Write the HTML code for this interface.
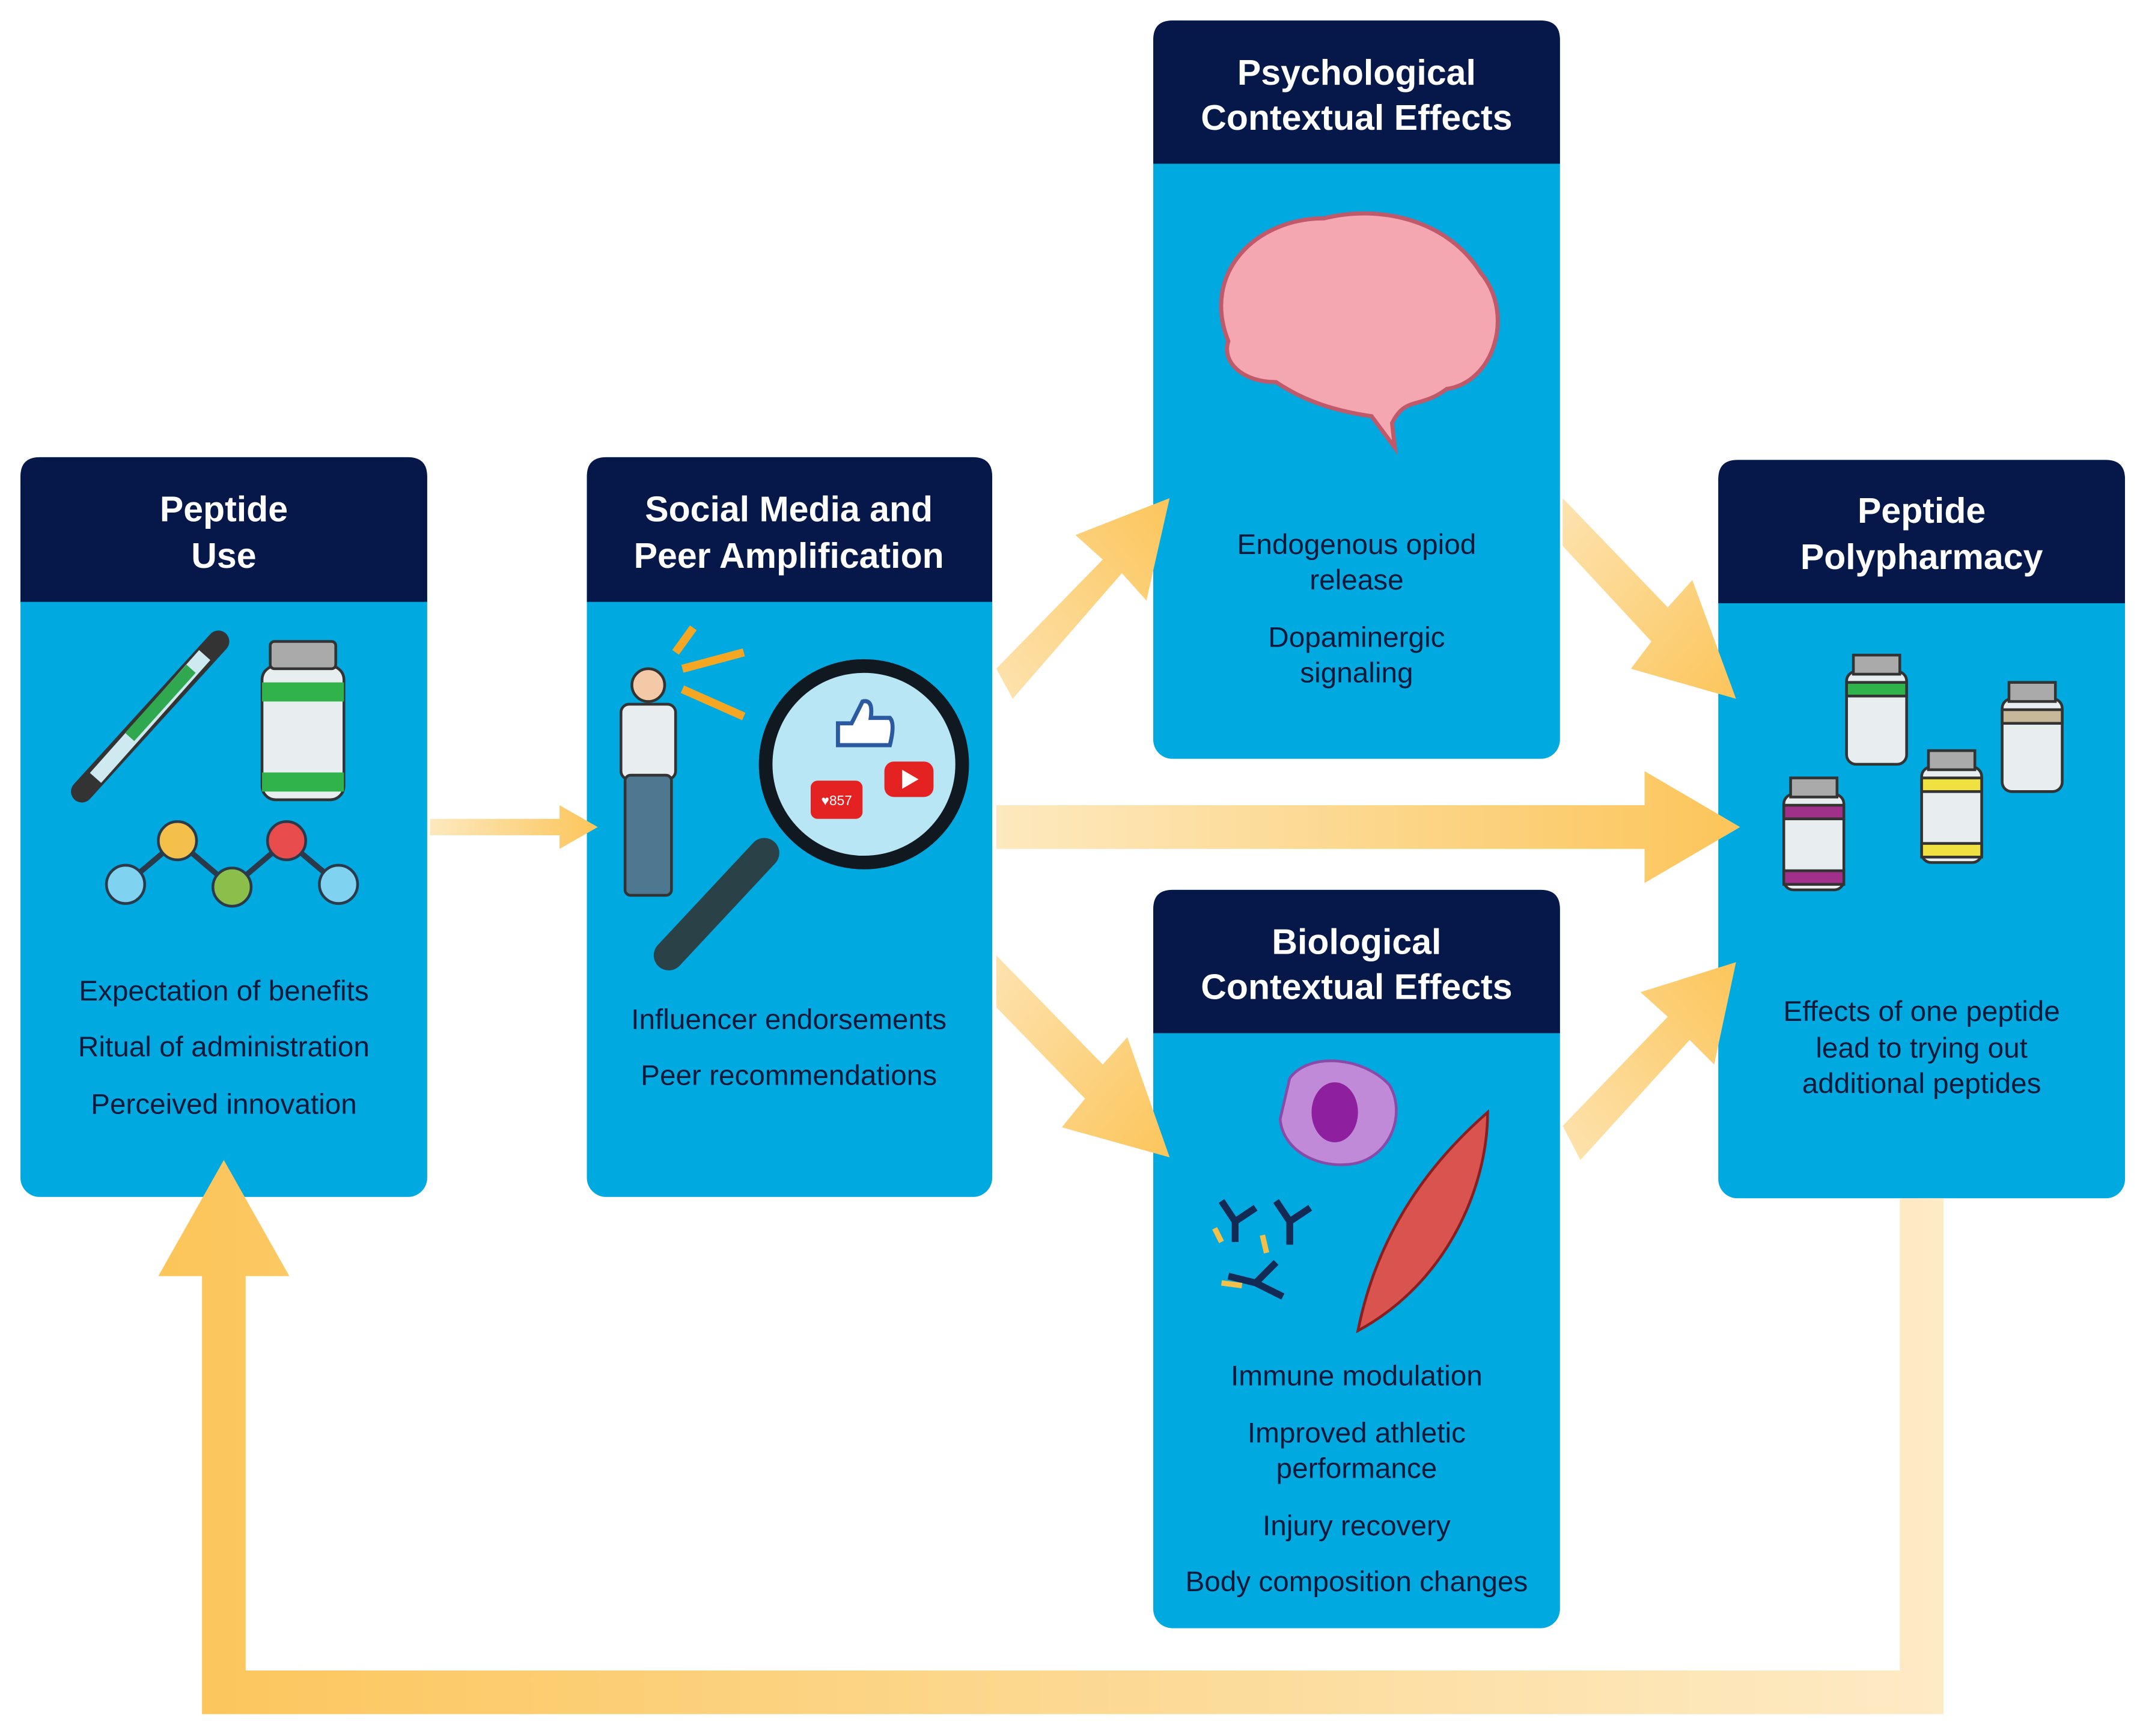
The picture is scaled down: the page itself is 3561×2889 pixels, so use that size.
<!DOCTYPE html>
<html><head><meta charset="utf-8">
<style>html,body{margin:0;padding:0;background:#fff}svg{display:block}
text{font-family:"Liberation Sans",sans-serif}</style></head>
<body>
<svg width="3561" height="2889" viewBox="0 0 1568 1272" preserveAspectRatio="none" xmlns="http://www.w3.org/2000/svg">
<defs>
<linearGradient id="gh" x1="0" x2="1" y1="0" y2="0"><stop offset="0" stop-color="#fde9bf"/><stop offset="1" stop-color="#fcc55a"/></linearGradient>
<linearGradient id="gd1" x1="0" y1="1" x2="1" y2="0"><stop offset="0" stop-color="#fde3b0"/><stop offset="1" stop-color="#fcc55a"/></linearGradient>
<linearGradient id="gd2" x1="0" y1="0" x2="1" y2="1"><stop offset="0" stop-color="#fde3b0"/><stop offset="1" stop-color="#fcc55a"/></linearGradient>
<linearGradient id="gl" x1="1" x2="0" y1="0" y2="0"><stop offset="0" stop-color="#fdebc6"/><stop offset="1" stop-color="#fcc55a"/></linearGradient>
</defs>

<!-- boxes -->
<g>
<rect x="15" y="335" width="298" height="542" rx="14" fill="#00a9e0"/>
<path d="M15,441 V349 Q15,335 29,335 H299 Q313,335 313,349 V441 Z" fill="#06174a"/>
<rect x="430" y="335" width="297" height="542" rx="14" fill="#00a9e0"/>
<path d="M430,441 V349 Q430,335 444,335 H713 Q727,335 727,349 V441 Z" fill="#06174a"/>
<rect x="845" y="15" width="298" height="541" rx="14" fill="#00a9e0"/>
<path d="M845,120 V29 Q845,15 859,15 H1129 Q1143,15 1143,29 V120 Z" fill="#06174a"/>
<rect x="845" y="652" width="298" height="541" rx="14" fill="#00a9e0"/>
<path d="M845,757 V666 Q845,652 859,652 H1129 Q1143,652 1143,666 V757 Z" fill="#06174a"/>
<rect x="1259" y="337" width="298" height="541" rx="14" fill="#00a9e0"/>
<path d="M1259,442 V351 Q1259,337 1273,337 H1543 Q1557,337 1557,351 V442 Z" fill="#06174a"/>
</g>

<!-- loop arrow -->
<path d="M1392,878 H1424 V1256 H148 V935 H116 L164,850 L212,935 H180 V1224 H1392 Z" fill="url(#gl)"/>
<!-- small arrow -->
<path d="M315,600 H410 V590 L438,606 L410,622 V612 H315 Z" fill="url(#gh)"/>
<!-- horizontal big -->
<path d="M730,590 H1205 V565 L1275,606 L1205,647 V622 H730 Z" fill="url(#gh)"/>
<!-- diagonals -->
<path d="M730,490 L808,410 L788,392 L857,365 L840,440 L822,420 L742,512 Z" fill="url(#gd1)"/>
<path d="M1145,365 L1222,445 L1240,425 L1272,512 L1195,490 L1210,470 L1145,400 Z" fill="url(#gd2)"/>
<path d="M730,700 L808,780 L826,760 L857,848 L778,826 L795,805 L730,738 Z" fill="url(#gd2)"/>
<path d="M1145,825 L1222,745 L1202,727 L1272,705 L1256,780 L1238,762 L1158,850 Z" fill="url(#gd1)"/>

<g fill="#fff" font-weight="bold" font-size="26" text-anchor="middle">
<text x="164" y="382">Peptide</text><text x="164" y="416">Use</text>
<text x="578" y="382">Social Media and</text><text x="578" y="416">Peer Amplification</text>
<text x="994" y="62">Psychological</text><text x="994" y="95">Contextual Effects</text>
<text x="994" y="699">Biological</text><text x="994" y="732">Contextual Effects</text>
<text x="1408" y="383">Peptide</text><text x="1408" y="417">Polypharmacy</text>
</g>
<g fill="#0b1a3a" font-size="21" text-anchor="middle">
<text x="164" y="733">Expectation of benefits</text>
<text x="164" y="774">Ritual of administration</text>
<text x="164" y="816">Perceived innovation</text>
<text x="578" y="754">Influencer endorsements</text>
<text x="578" y="795">Peer recommendations</text>
<text x="994" y="406">Endogenous opiod</text><text x="994" y="432">release</text>
<text x="994" y="474">Dopaminergic</text><text x="994" y="500">signaling</text>
<text x="994" y="1015">Immune modulation</text>
<text x="994" y="1057">Improved athletic</text><text x="994" y="1083">performance</text>
<text x="994" y="1125">Injury recovery</text>
<text x="994" y="1166">Body composition changes</text>
<text x="1408" y="748">Effects of one peptide</text>
<text x="1408" y="775">lead to trying out</text>
<text x="1408" y="801">additional peptides</text>
</g>

<!-- Peptide use icons -->
<g>
<path d="M60,580 L160,470" stroke="#333" stroke-width="16" stroke-linecap="round"/>
<path d="M70,570 L150,480" stroke="#cfe9f0" stroke-width="11"/>
<path d="M95,540 L140,490" stroke="#2fa84f" stroke-width="9"/>
<rect x="192" y="488" width="60" height="98" rx="10" fill="#e8eef0" stroke="#333" stroke-width="2"/>
<rect x="198" y="470" width="48" height="20" rx="3" fill="#aaa" stroke="#333" stroke-width="2"/>
<rect x="192" y="500" width="60" height="14" fill="#2fb34a"/><rect x="192" y="566" width="60" height="14" fill="#2fb34a"/>
<path d="M92,648 L130,616 L170,650 L210,616 L248,648" stroke="#2b3a4a" stroke-width="4" fill="none"/>
<circle cx="92" cy="648" r="14" fill="#7fd3f0" stroke="#2b3a4a" stroke-width="2"/>
<circle cx="130" cy="616" r="14" fill="#f5c04a" stroke="#2b3a4a" stroke-width="2"/>
<circle cx="170" cy="650" r="14" fill="#8cbf4a" stroke="#2b3a4a" stroke-width="2"/>
<circle cx="210" cy="616" r="14" fill="#e84c4c" stroke="#2b3a4a" stroke-width="2"/>
<circle cx="248" cy="648" r="14" fill="#7fd3f0" stroke="#2b3a4a" stroke-width="2"/>
</g>
<!-- social icons -->
<g>
<circle cx="475" cy="502" r="12" fill="#f4c9a8" stroke="#333" stroke-width="2"/>
<rect x="455" y="516" width="40" height="55" rx="6" fill="#e8eef0" stroke="#333" stroke-width="2"/>
<rect x="458" y="568" width="34" height="88" rx="4" fill="#4d7890" stroke="#333" stroke-width="2"/>
<path d="M495,478 L508,460 M500,490 L545,478 M500,505 L545,525" stroke="#f5a623" stroke-width="6"/>
<path d="M490,700 L560,625" stroke="#2b4148" stroke-width="22" stroke-linecap="round"/>
<circle cx="633" cy="560" r="72" fill="#b8e6f5" stroke="#101820" stroke-width="10"/>
<path d="M614,530 H624 L632,514 Q640,512 638,526 H652 Q656,530 652,546 H614 Z" fill="#fff" stroke="#2c5aa0" stroke-width="3"/>
<rect x="648" y="558" width="36" height="26" rx="7" fill="#e52222"/><path d="M661,564 L673,571 L661,578 Z" fill="#fff"/>
<rect x="594" y="572" width="38" height="28" rx="5" fill="#e52222"/>
<text x="613" y="590" font-size="10" fill="#fff" text-anchor="middle">♥857</text>
</g>
<!-- brain -->
<path d="M900,250 C880,200 920,160 970,160 C1010,150 1060,160 1085,200 C1110,230 1095,280 1060,285 C1040,300 1030,290 1020,310 L1022,328 L1005,305 C970,300 950,290 935,280 C910,280 895,265 900,250 Z" fill="#f4a7b0" stroke="#c0596a" stroke-width="3"/>
<!-- bio icons -->
<g>
<path d="M945,790 C960,770 1000,775 1018,795 C1030,815 1020,845 995,852 C970,858 940,845 938,820 Z" fill="#c08ad8" stroke="#8a4aa8" stroke-width="2"/>
<ellipse cx="978" cy="815" rx="17" ry="22" fill="#8e1f9e"/>
<path d="M995,975 C1010,900 1050,850 1090,815 C1090,870 1060,940 995,975 Z" fill="#d9534f" stroke="#8b1e1e" stroke-width="2"/>
<g stroke="#132a55" stroke-width="5" fill="none"><path d="M895,880 L905,895 L920,885 M905,895 L905,910"/><path d="M935,880 L945,895 L960,885 M945,895 L945,912"/><path d="M900,935 L920,940 L935,925 M920,940 L940,950"/></g>
<g stroke="#f5c04a" stroke-width="4"><path d="M890,900 L895,910"/><path d="M925,905 L928,918"/><path d="M895,940 L910,942"/></g>
</g>
<!-- vials polypharmacy -->
<g stroke="#333" stroke-width="2">
<rect x="1353" y="492" width="44" height="68" rx="7" fill="#e8eef0"/><rect x="1358" y="480" width="34" height="14" fill="#aaa"/><rect x="1353" y="500" width="44" height="10" fill="#2fb34a"/>
<rect x="1467" y="512" width="44" height="68" rx="7" fill="#e8eef0"/><rect x="1472" y="500" width="34" height="14" fill="#aaa"/><rect x="1467" y="520" width="44" height="10" fill="#c8b89a"/>
<rect x="1408" y="562" width="44" height="70" rx="7" fill="#e8eef0"/><rect x="1413" y="550" width="34" height="14" fill="#aaa"/><rect x="1408" y="570" width="44" height="10" fill="#f0e040"/><rect x="1408" y="618" width="44" height="10" fill="#f0e040"/>
<rect x="1307" y="582" width="44" height="70" rx="7" fill="#e8eef0"/><rect x="1312" y="570" width="34" height="14" fill="#aaa"/><rect x="1307" y="590" width="44" height="10" fill="#a0308a"/><rect x="1307" y="638" width="44" height="10" fill="#a0308a"/>
</g>
</svg>
</body></html>
